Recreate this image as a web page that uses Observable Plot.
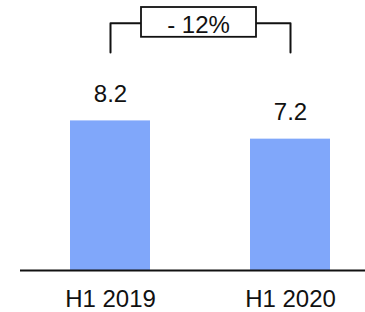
<!DOCTYPE html>
<html>
<head>
<meta charset="utf-8">
<script src="https://cdn.jsdelivr.net/npm/d3@7"></script>
<script src="https://cdn.jsdelivr.net/npm/@observablehq/plot@0.6"></script>
<style>
  html, body { margin: 0; padding: 0; background: #fff; }
  #chart svg { display: block; }
</style>
</head>
<body>
<div id="chart"></div>
<script>
const periods = ["H1 2019", "H1 2020"];
const values = [8.2, 7.2];
const valueLabels = ["8.2", "7.2"];
const changeLabel = ["- 12%"];
const bracketLevel = [13.55];
const bracketFoot = [11.95];

const data = periods.map((p, i) => ({period: p, value: values[i], label: valueLabels[i]}));
const bracket = [
  {period: periods[0], y: bracketFoot[0]},
  {period: periods[0], y: bracketLevel[0]},
  {period: periods[1], y: bracketLevel[0]},
  {period: periods[1], y: bracketFoot[0]}
];

function changeBox(index, scales, vals, dims, context) {
  const x = scales.x, y = scales.y;
  const bw = x.bandwidth ? x.bandwidth() : 0;
  const cx = (x(periods[0]) + x(periods[1])) / 2 + bw / 2 - 1.5;
  const cy = y(bracketLevel[0]);
  const g = d3.create("svg:g");
  g.append("rect")
    .attr("x", cx - 57.5).attr("y", cy - 15.8)
    .attr("width", 115).attr("height", 29.8)
    .attr("fill", "#fff").attr("stroke", "#111").attr("stroke-width", 1.8);
  g.append("text")
    .attr("x", cx).attr("y", cy + 10)
    .attr("text-anchor", "middle")
    .attr("fill", "#111")
    .text(changeLabel[0]);
  return g.node();
}

const chart = Plot.plot({
  width: 365,
  height: 312,
  marginLeft: 20,
  marginRight: 0,
  marginTop: 0,
  marginBottom: 42,
  style: {fontFamily: "'Liberation Sans', Arial, sans-serif", fontSize: "24px", color: "#111", background: "#fff"},
  x: {domain: periods, paddingInner: 0.557, paddingOuter: 0.234, align: 0.592, label: null, tickSize: 0, tickPadding: 19.5},
  y: {domain: [0, 14.8], axis: null},
  marks: [
    Plot.barY(data, {x: "period", y: "value", fill: "#80A7FA"}),
    Plot.ruleY([0], {stroke: "#111", strokeWidth: 2}),
    Plot.text(data, {x: "period", y: "value", text: "label", dy: -18.7, lineAnchor: "bottom", fill: "#111"}),
    Plot.line(bracket, {x: "period", y: "y", stroke: "#111", strokeWidth: 2, curve: "step"}),
    changeBox
  ]
});
document.getElementById("chart").appendChild(chart);
</script>
</body>
</html>
